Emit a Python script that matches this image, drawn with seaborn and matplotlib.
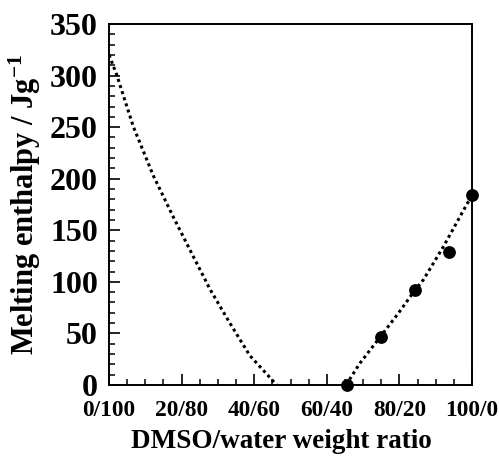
import matplotlib
matplotlib.use("Agg")
import matplotlib.pyplot as plt
import seaborn as sns
import pandas as pd
from matplotlib.ticker import MultipleLocator, FixedLocator

# Data
dmso_points = [65.5, 74.8, 84.3, 93.7, 100.0]
enthalpy_points = [0, 47, 92, 129, 184]

left_fit_x = [0, 2.1, 6.7, 12.2, 17.7, 22.3, 27.8, 33.3, 38.8, 46.2]
left_fit_y = [320, 301, 250.5, 203, 163, 131, 93, 60, 28.5, 0]

right_fit_x = [65.3, 69.1, 74.8, 79.7, 84.3, 86.6, 92.1, 97.2, 100.0]
right_fit_y = [0, 21, 47, 69.5, 92, 102, 134, 166.5, 184]

x_ticks = [0, 20, 40, 60, 80, 100]
x_tick_labels = ["0/100", "20/80", "40/60", "60/40", "80/20", "100/0"]
y_ticks = [0, 50, 100, 150, 200, 250, 300, 350]

sns.set_theme(style="ticks")
plt.rcParams["font.family"] = ["Liberation Serif", "DejaVu Serif"]
plt.rcParams["font.weight"] = "bold"
plt.rcParams["mathtext.fontset"] = "custom"
plt.rcParams["mathtext.rm"] = "Liberation Serif:bold"
plt.rcParams["mathtext.bf"] = "Liberation Serif:bold"
plt.rcParams["mathtext.it"] = "Liberation Serif:bold"
for k in ("text.color", "axes.labelcolor", "xtick.color", "ytick.color", "axes.edgecolor"):
    plt.rcParams[k] = "black"

fig = plt.figure(figsize=(4.99, 4.62), dpi=100)
ax = fig.add_axes([109 / 499, 1 - 385 / 462, (472 - 109) / 499, (385 - 24) / 462])

df_left = pd.DataFrame({"x": left_fit_x, "y": left_fit_y})
df_right = pd.DataFrame({"x": right_fit_x, "y": right_fit_y})
df_pts = pd.DataFrame({"x": dmso_points, "y": enthalpy_points})

for d in (df_left, df_right):
    sns.lineplot(data=d, x="x", y="y", ax=ax, sort=False, estimator=None,
                 color="black", linewidth=2.2, linestyle=(0, (1, 1.1)))
sns.scatterplot(data=df_pts, x="x", y="y", ax=ax, color="black", s=85,
                edgecolor="black", linewidth=0, clip_on=False, zorder=5)

ax.set_xlim(0, 100)
ax.set_ylim(0, 350)
ax.xaxis.set_major_locator(FixedLocator(x_ticks))
ax.set_xticklabels(x_tick_labels)
ax.xaxis.set_minor_locator(MultipleLocator(5))
ax.yaxis.set_major_locator(FixedLocator(y_ticks))
ax.yaxis.set_minor_locator(MultipleLocator(10))

ax.tick_params(axis="both", which="major", direction="in", length=8, width=1.2,
               top=False, right=False, color="black", labelcolor="black")
ax.tick_params(axis="both", which="minor", direction="in", length=4.3, width=1.1,
               top=False, right=False, color="black")
ax.tick_params(axis="x", which="major", labelsize=16.8, pad=11)
ax.tick_params(axis="y", which="major", labelsize=23, pad=8)
for lab in ax.get_xticklabels() + ax.get_yticklabels():
    lab.set_fontweight("bold")

for sp in ax.spines.values():
    sp.set_visible(True)
    sp.set_linewidth(1.4)
    sp.set_color("black")

ax.set_xlabel("DMSO/water weight ratio", fontsize=19.5, fontweight="bold", color="black")
ax.xaxis.set_label_coords((281 - 109) / 363, -(442 - 385) / 361, transform=ax.transAxes)
ax.xaxis.label.set_verticalalignment("center")
ax.set_ylabel("Melting enthalpy / Jg$^{-1}$", fontsize=22, fontweight="bold", labelpad=5, color="black")
ax.set_facecolor("white")
fig.patch.set_facecolor("white")

fig.savefig("out.png", dpi=100)
